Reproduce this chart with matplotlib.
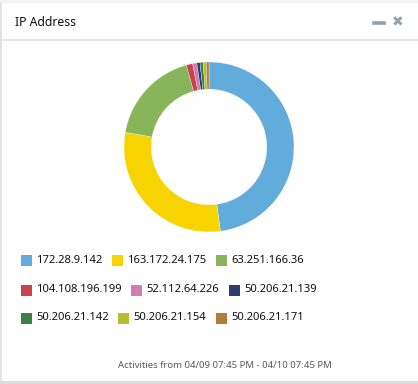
import matplotlib
matplotlib.use("Agg")
import matplotlib.pyplot as plt
from matplotlib.patches import Rectangle
from matplotlib.lines import Line2D

# 数据
ips = ["172.28.9.142", "163.172.24.175", "63.251.166.36",
       "104.108.196.199", "52.112.64.226", "50.206.21.139",
       "50.206.21.142", "50.206.21.154", "50.206.21.171"]
counts = [48.0, 30.0, 18.0, 1.2, 0.8, 0.6, 0.6, 0.6, 0.5]
colors = ["#62acdc", "#f7d400", "#88b55a", "#c9434b", "#d27cb1",
          "#2b3d71", "#3b8148", "#b8be2f", "#b27a3b"]
title = "IP Address"
footer = "Activities from 04/09 07:45 PM - 04/10 07:45 PM"

W, H = 418, 384
fig = plt.figure(figsize=(W / 100, H / 100), dpi=100)
fig.patch.set_facecolor("white")

def fx(px):
    return px / W
def fy(py):
    return 1 - py / H

# 面板边框
fig.add_artist(Rectangle((0, fy(3)), 1, 3 / H, transform=fig.transFigure,
                         color="#f4f4f4", lw=0))
fig.add_artist(Rectangle((0, 0), 1, 3 / H, transform=fig.transFigure,
                         color="#dcdcdc", lw=0))
fig.add_artist(Line2D([fx(0.5), fx(0.5)], [0, fy(3)], transform=fig.transFigure,
                      color="#dddddd", lw=1.2))
fig.add_artist(Line2D([0, 1], [fy(39.5), fy(39.5)], transform=fig.transFigure,
                      color="#e2e2e2", lw=1.2))

# 标题和图标
fig.text(fx(15), fy(22), title, fontsize=8.8, family="Noto Sans",
         color="#111111", va="center", ha="left")
fig.add_artist(Line2D([fx(374), fx(384)], [fy(22.5), fy(22.5)],
                      transform=fig.transFigure, color="#8fa3ad", lw=2.6))
fig.text(fx(398), fy(22.5), "\u2716", fontsize=10, family="DejaVu Sans",
         color="#8fa3ad", va="center", ha="center")

# 环形图
cx, cy, r = 209, 147, 85
ax = fig.add_axes([fx(cx - r), fy(cy + r), 2 * r / W, 2 * r / H])
ax.pie(counts, colors=colors, startangle=90, counterclock=False,
       wedgeprops=dict(width=0.32, edgecolor="white", linewidth=0.2))
ax.set_xlim(-1, 1)
ax.set_ylim(-1, 1)
ax.set_aspect("auto")
ax.axis("off")

# 图例 (流式排列)
renderer = fig.canvas.get_renderer()
rows = [[0, 1, 2], [3, 4, 5], [6, 7, 8]]
row_y = [260.5, 290, 318]
sq = 11
for row, yy in zip(rows, row_y):
    x = 20.5
    for i in row:
        fig.add_artist(Rectangle((fx(x), fy(yy + sq / 2)), sq / W, sq / H,
                                 transform=fig.transFigure, color=colors[i], lw=0))
        t = fig.text(fx(x + sq + 4.5), fy(yy), ips[i], fontsize=8.1,
                     family="Noto Sans", color="#111111", va="center", ha="left")
        w = t.get_window_extent(renderer).width
        x = x + sq + 4.5 + w + 9.5

fig.text(fx(225), fy(366), footer, fontsize=6.9, family="Noto Sans",
         color="#5a5a5a", va="center", ha="center")

fig.savefig("out.png", dpi=100)
